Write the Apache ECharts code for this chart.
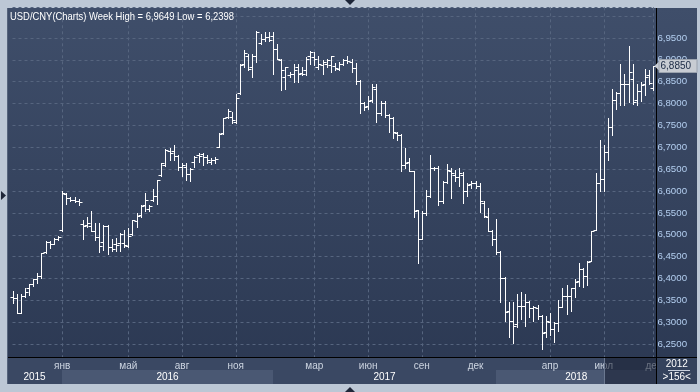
<!DOCTYPE html>
<html><head><meta charset="utf-8">
<script src="https://cdn.jsdelivr.net/npm/echarts@6/dist/echarts.min.js"></script>
<style>html,body{margin:0;padding:0;background:#bcc7d5;}#c{width:700px;height:392px;}</style>
</head><body><div id="c"></div>
<script>
const opens = [6.3568,6.3545,6.3212,6.3606,6.3773,6.3871,6.4000,6.4061,6.4606,6.4833,6.4780,6.4909,6.5106,6.5939,6.5841,6.5788,6.5765,6.5258,6.5235,6.5197,
6.5098,6.4954,6.4833,6.5197,6.4727,6.4780,6.4818,6.4818,6.4742,6.5008,6.5311,6.5462,6.5689,6.5591,6.5803,6.5879,6.6371,6.6598,6.6917,6.6924,
6.6800,6.6560,6.6550,6.6400,6.6674,6.6826,6.6841,6.6788,6.6674,6.6712,6.7015,6.7318,6.7697,6.7697,6.7583,6.8242,6.8909,6.9098,6.8833,6.9098,
6.9379,6.9477,6.9515,6.9553,6.9250,6.9000,6.8606,6.8644,6.8682,6.8833,6.8697,6.8758,6.9098,6.9061,6.8833,6.8871,6.8894,6.8871,6.8848,6.8795,
6.8894,6.9000,6.8947,6.8818,6.8515,6.8015,6.7939,6.8076,6.8341,6.7773,6.8015,6.7735,6.7659,6.7318,6.7280,6.6598,6.6674,6.6447,6.5561,6.4909,
6.5500,6.5879,6.6523,6.6523,6.5765,6.6197,6.6447,6.6371,6.6318,6.6371,6.5992,6.6167,6.6182,6.6106,6.5727,6.5409,6.5083,6.4894,6.4606,6.4023,
6.3265,6.3023,6.2962,6.3364,6.3364,6.3455,6.3318,6.3318,6.3152,6.2773,6.3000,6.2848,6.2985,6.3341,6.3606,6.3606,6.3773,6.3947,6.4227,6.4061,
6.4402,6.5121,6.6182,6.6273,6.6902,6.7470,6.8076,6.8242,6.8439,6.8439,6.8568,6.8091,6.8288,6.8455,6.8644,6.8364];
const highs = [6.3720,6.3644,6.3644,6.3773,6.3886,6.4000,6.4121,6.4591,6.4856,6.4856,6.4932,6.4970,6.5992,6.5955,6.5864,6.5856,6.5818,6.5348,6.5409,6.5553,
6.5273,6.5273,6.5235,6.5220,6.4894,6.4932,6.5030,6.5121,6.5159,6.5348,6.5500,6.5689,6.5955,6.5689,6.6045,6.6242,6.6652,6.6955,6.6977,6.7053,
6.6830,6.6650,6.6650,6.6520,6.6803,6.6864,6.6879,6.6826,6.6750,6.6788,6.7318,6.7674,6.7864,6.7811,6.8212,6.8909,6.9227,6.9136,6.9136,6.9649,
6.9591,6.9629,6.9640,6.9629,6.9364,6.9023,6.8833,6.8720,6.8909,6.8894,6.8833,6.9061,6.9212,6.9174,6.9098,6.9000,6.9023,6.9098,6.8924,6.8947,
6.9023,6.9076,6.9023,6.8924,6.8530,6.8038,6.8167,6.8439,6.8439,6.8061,6.8061,6.7758,6.7682,6.7356,6.7303,6.6977,6.6750,6.6462,6.5576,6.5538,
6.6030,6.6826,6.6561,6.6576,6.6220,6.6621,6.6523,6.6485,6.6523,6.6424,6.6182,6.6220,6.6220,6.6182,6.5765,6.5614,6.5121,6.5364,6.4629,6.4045,
6.3455,6.3455,6.3644,6.3682,6.3644,6.3492,6.3379,6.3394,6.3167,6.3136,6.3212,6.3015,6.3515,6.3773,6.3848,6.3790,6.3985,6.4364,6.4250,6.4402,
6.5083,6.6409,6.7167,6.7053,6.7659,6.8341,6.8265,6.8909,6.8682,6.9326,6.8909,6.8455,6.8492,6.8795,6.8773,6.8850];
const lows = [6.3439,6.3212,6.3205,6.3568,6.3629,6.3833,6.3894,6.4023,6.4576,6.4704,6.4780,6.4879,6.5083,6.5712,6.5765,6.5742,6.5682,6.4894,6.5182,6.5083,
6.4879,6.4606,6.4651,6.4553,6.4629,6.4629,6.4629,6.4727,6.4727,6.4985,6.5182,6.5409,6.5538,6.5538,6.5765,6.5712,6.6348,6.6576,6.6712,6.6712,
6.6490,6.6350,6.6250,6.6220,6.6561,6.6674,6.6598,6.6636,6.6621,6.6651,6.7000,6.7303,6.7659,6.7545,6.7561,6.8227,6.8833,6.8758,6.8606,6.8947,
6.9364,6.9424,6.9424,6.8682,6.9023,6.8318,6.8341,6.8606,6.8492,6.8492,6.8644,6.8644,6.8909,6.8871,6.8795,6.8667,6.8833,6.8720,6.8758,6.8758,
6.8871,6.8924,6.8720,6.8455,6.7788,6.7848,6.7864,6.8038,6.7583,6.7735,6.7697,6.7356,6.7205,6.7167,6.6447,6.6523,6.6447,6.5401,6.4348,6.4894,
6.5462,6.5864,6.6485,6.5689,6.5727,6.6182,6.5841,6.6220,6.6106,6.5727,6.5894,6.6068,6.6068,6.5515,6.5409,6.5083,6.4758,6.4553,6.3470,6.3038,
6.2659,6.2530,6.2886,6.3076,6.2924,6.3114,6.3038,6.3076,6.2398,6.2659,6.2712,6.2561,6.2811,6.3341,6.3189,6.3265,6.3568,6.3833,6.3818,6.3848,
6.4402,6.5121,6.5992,6.5992,6.6712,6.7280,6.7886,6.7962,6.7962,6.8038,6.8000,6.7962,6.8061,6.8189,6.8455,6.8303];
const closes = [6.3545,6.3212,6.3600,6.3682,6.3871,6.3985,6.4061,6.4576,6.4833,6.4780,6.4909,6.4954,6.5955,6.5841,6.5788,6.5780,6.5758,6.5197,6.5273,6.5098,
6.4954,6.4742,6.5197,6.4727,6.4682,6.4757,6.5023,6.4757,6.4970,6.5333,6.5439,6.5667,6.5803,6.5651,6.5894,6.6242,6.6636,6.6939,6.6879,6.6803,
6.6560,6.6600,6.6400,6.6500,6.6788,6.6803,6.6788,6.6712,6.6712,6.6727,6.7303,6.7659,6.7833,6.7621,6.8136,6.8871,6.9152,6.8795,6.9098,6.9629,
6.9477,6.9530,6.9455,6.9250,6.9023,6.8758,6.8833,6.8682,6.8758,6.8667,6.8682,6.9023,6.9174,6.9023,6.8894,6.8947,6.9000,6.9076,6.8818,6.8894,
6.9000,6.8970,6.8818,6.8515,6.8015,6.7924,6.8061,6.8379,6.7773,6.8015,6.7735,6.7659,6.7356,6.7280,6.6598,6.6636,6.6447,6.5553,6.4909,6.5500,
6.5879,6.6523,6.6523,6.5765,6.6197,6.6485,6.6409,6.6318,6.6409,6.5992,6.6144,6.6182,6.6106,6.5765,6.5424,6.5083,6.4894,6.4606,6.4023,6.3242,
6.3023,6.2924,6.3364,6.3364,6.3455,6.3318,6.3341,6.3152,6.2758,6.3038,6.2848,6.2985,6.3341,6.3606,6.3606,6.3773,6.3924,6.4227,6.4061,6.4379,
6.5083,6.6182,6.6273,6.6902,6.7470,6.8076,6.8242,6.8439,6.8439,6.8720,6.8038,6.8288,6.8417,6.8606,6.8470,6.8850];

const monthTickIdx = [12, 28, 41, 54, 73, 86, 99, 112, 130, 143, 155];
const monthTickText = ['янв','май','авг','ноя','мар','июн','сен','дек','апр','июл','дек'];
const yearStartIdx = [0, 12, 63, 117];
const yearText = ['2015','2016','2017','2018'];
const titleText = 'USD/CNY(Charts) Week High = 6,9649 Low = 6,2398';
const lastPrice = 6.8850;
const lastPriceText = '6,8850';
const periodText = ['2012', '>156<'];
const scrollStartIdx = 143;

const weeks = closes.map((_, i) => String(i));
const FONT = '"Liberation Sans", Arial, sans-serif';

const chart = echarts.init(document.getElementById('c'), null, {renderer: 'canvas'});

function renderItem(params, api) {
  const i = api.value(0);
  const pO = api.coord([i, api.value(1)]);
  const pH = api.coord([i, api.value(2)]);
  const pL = api.coord([i, api.value(3)]);
  const pC = api.coord([i, api.value(4)]);
  const x = Math.round(pO[0]) + 0.5;
  const st = {stroke: '#ffffff', lineWidth: 1};
  const yo = Math.round(pO[1]) + 0.5, yc = Math.round(pC[1]) + 0.5;
  return {type: 'group', children: [
    {type: 'line', shape: {x1: x, y1: Math.round(pH[1]), x2: x, y2: Math.round(pL[1]) + 1}, style: st},
    {type: 'line', shape: {x1: x - 3, y1: yo, x2: x, y2: yo}, style: st},
    {type: 'line', shape: {x1: x, y1: yc, x2: x + 3, y2: yc}, style: st}
  ]};
}

const isTick = (idx) => monthTickIdx.indexOf(idx) >= 0;

chart.setOption({
  animation: false,
  backgroundColor: '#bcc7d5',
  grid: {left: 12.5, right: 46.6, top: 7.3, bottom: 34.7, containLabel: false},
  xAxis: {
    type: 'category', data: weeks, boundaryGap: false,
    axisLine: {show: false}, axisTick: {show: false},
    axisLabel: {
      interval: (idx) => isTick(idx),
      formatter: (v, idx) => { const k = monthTickIdx.indexOf(Number(v)); return k >= 0 ? monthTickText[k] : ''; },
      color: '#cdd5e1', fontSize: 10, fontFamily: FONT, margin: 4
    },
    splitLine: {show: true, interval: (idx) => isTick(idx), lineStyle: {color: '#56657f', type: [3, 3], width: 1}}
  },
  yAxis: {
    type: 'value', position: 'right', min: 6.22, max: 7.02, splitNumber: 16,
    minInterval: 0.05, maxInterval: 0.05, scale: true,
    axisLine: {show: false}, axisTick: {show: false},
    axisLabel: {
      color: '#b4cff0', fontSize: 9.7, fontFamily: FONT, margin: 4,
      formatter: (v) => { const r = Math.round(v * 20) / 20; if (Math.abs(r - v) > 1e-6 || v > 6.96) return ''; return v.toFixed(4).replace('.', ','); }
    },
    splitLine: {show: true, lineStyle: {color: '#56657f', type: [3, 3], width: 1}}
  },
  series: [{
    type: 'custom', renderItem: renderItem, silent: true,
    encode: {x: 0, y: [1, 2, 3, 4]},
    data: weeks.map((w, i) => [i, opens[i], highs[i], lows[i], closes[i]]),
    z: 10
  }]
});

function px(idx, val) { return chart.convertToPixel({gridIndex: 0}, [idx, val]); }

const gridRight = px(155, lastPrice)[0] + 2.5;
const gridBottom = px(0, 6.22)[1];
const bandTop = Math.round(gridBottom);
const yearRowTop = 370;
const bandBottom = 384;
const xs = yearStartIdx.map((k) => k === 0 ? 7 : Math.round(px(k, 6.5)[0]));
const axisX = Math.round(gridRight) + 0.5;
const els = [];
els.push({type: 'rect', z: -100, shape: {x: 7, y: 8, width: 690, height: bandBottom - 8},
  style: {fill: new echarts.graphic.LinearGradient(0, 0, 0, 1, [{offset: 0, color: '#3f4e6a'}, {offset: 1, color: '#2b3852'}])}});
els.push({type: 'rect', z: -90, shape: {x: 7, y: bandTop, width: 690, height: bandBottom - bandTop}, style: {fill: '#3a4863'}});
yearStartIdx.forEach((k, j) => {
  const x0 = xs[j];
  const x1 = j + 1 < xs.length ? xs[j + 1] : axisX;
  if (j % 2 === 1) {
    els.push({type: 'rect', z: -80, shape: {x: x0, y: yearRowTop, width: x1 - x0, height: bandBottom - yearRowTop}, style: {fill: '#4a5873'}});
  }
  els.push({type: 'text', z: 50, style: {text: yearText[j], x: (x0 + x1) / 2, y: 377.5, align: 'center', verticalAlign: 'middle', fill: '#ffffff', font: '10px ' + FONT}});
});
const sx = Math.round(px(scrollStartIdx, 6.5)[0]);
els.push({type: 'rect', z: 60, shape: {x: sx, y: bandTop + 1, width: axisX - sx, height: bandBottom - bandTop - 1}, style: {fill: 'rgba(22,30,48,0.55)'}});
els.push({type: 'line', z: 61, shape: {x1: sx + 0.5, y1: bandTop + 1, x2: sx + 0.5, y2: bandBottom}, style: {stroke: '#6b7890', lineWidth: 1}});
els.push({type: 'rect', z: 70, shape: {x: axisX, y: bandTop, width: 697 - axisX, height: bandBottom - bandTop}, style: {fill: '#34425c'}});
els.push({type: 'text', z: 71, style: {text: periodText[0], x: (axisX + 697) / 2, y: 364.5, align: 'center', verticalAlign: 'middle', fill: '#ffffff', font: '10px ' + FONT}});
els.push({type: 'line', z: 71, shape: {x1: 668, y1: 370.5, x2: 690, y2: 370.5}, style: {stroke: '#c8d0dc', lineWidth: 1}});
els.push({type: 'text', z: 71, style: {text: periodText[1], x: (axisX + 697) / 2, y: 377.5, align: 'center', verticalAlign: 'middle', fill: '#ffffff', font: '10px ' + FONT}});
els.push({type: 'line', z: 80, shape: {x1: 7, y1: bandTop + 0.5, x2: 697, y2: bandTop + 0.5}, style: {stroke: '#000000', lineWidth: 1}});
els.push({type: 'line', z: 80, shape: {x1: axisX, y1: 8, x2: axisX, y2: bandBottom}, style: {stroke: '#000000', lineWidth: 1}});
els.push({type: 'line', z: 80, shape: {x1: 7.5, y1: 8, x2: 7.5, y2: bandBottom}, style: {stroke: '#56647c', lineWidth: 1}});
// title (condensed horizontally to the reference's narrow face)
els.push({type: 'text', z: 90, x: 10, y: 17, scaleX: 0.915, scaleY: 1,
  style: {text: titleText, x: 0, y: 0, verticalAlign: 'middle', fill: '#ffffff', font: '10.3px ' + FONT}});
const ly = Math.round(px(155, lastPrice)[1]);
els.push({type: 'polygon', z: 90, shape: {points: [[axisX - 2, ly], [axisX + 3, ly - 5], [axisX + 3, ly + 5]]}, style: {fill: '#c8ccd3'}});
els.push({type: 'rect', z: 90, shape: {x: axisX + 2.5, y: ly - 6.5, width: 38, height: 13}, style: {fill: '#c8ccd3', stroke: '#9aa2ae', lineWidth: 1}});
els.push({type: 'text', z: 91, style: {text: lastPriceText, x: axisX + 4, y: ly + 0.5, verticalAlign: 'middle', fill: '#1a2944', font: '10px ' + FONT}});
els.push({type: 'polygon', z: 90, shape: {points: [[345, 0], [355, 0], [350, 5]]}, style: {fill: '#1e2638'}});
els.push({type: 'polygon', z: 90, shape: {points: [[345, 392], [355, 392], [350, 387]]}, style: {fill: '#1e2638'}});
els.push({type: 'polygon', z: 90, shape: {points: [[1, 191], [1, 200], [6, 195.5]]}, style: {fill: '#1e2638'}});

chart.setOption({graphic: {elements: els}});
</script>
</body></html>
